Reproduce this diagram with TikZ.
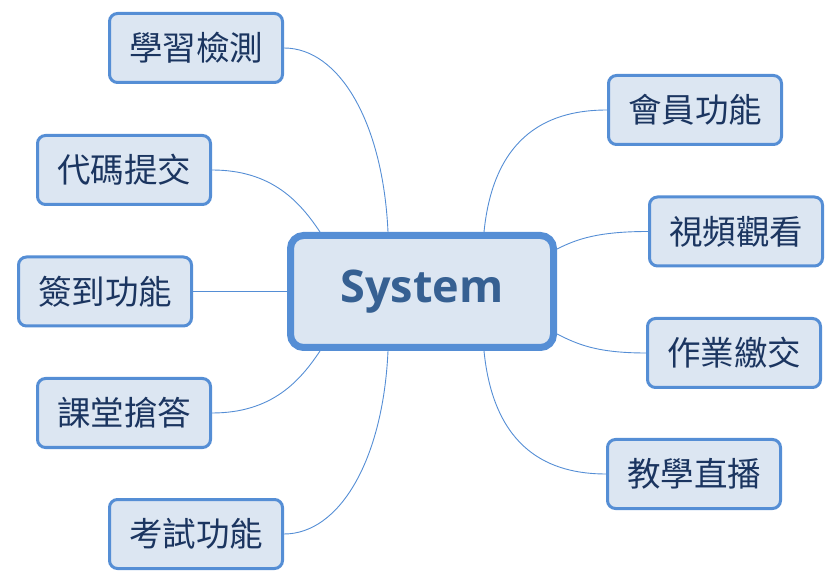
\documentclass[tikz,border=0pt]{standalone}
\usepackage{fontspec}
\newfontfamily\cjk{Noto Sans CJK TC}
\newfontfamily\sysfont{Open Sans}
\usetikzlibrary{calc,backgrounds}
\definecolor{bordc}{HTML}{558ED5}
\definecolor{fillc}{HTML}{DCE6F2}
\definecolor{txtc}{HTML}{1B3560}
\definecolor{systxt}{HTML}{366092}
\tikzset{
  child/.style={draw=bordc, fill=fillc, line width=3pt, rounded corners=8pt,
    minimum width=173pt, minimum height=69pt, text=txtc, inner sep=0pt,
    font=\cjk\fontsize{33.5}{36}\selectfont},
  central/.style={draw=bordc, fill=fillc, line width=7pt, rounded corners=13pt,
    minimum width=263pt, minimum height=112pt, text=systxt, inner sep=0pt,
    font=\sysfont\bfseries\fontsize{45}{50}\selectfont},
  link/.style={draw=bordc, line width=0.9pt}
}
\begin{document}
\begin{tikzpicture}[x=1pt,y=-1pt]
\useasboundingbox (0,0) rectangle (836,585);
\node[central] (sys) at (422,291.5) {\raisebox{-3pt}{System}};
\node[child] (a1) at (196,48) {學習檢測};
\node[child] (a2) at (124,170) {代碼提交};
\node[child] (a3) at (105,291.5) {簽到功能};
\node[child] (a4) at (124,413) {課堂搶答};
\node[child] (a5) at (196,534) {考試功能};
\node[child] (b1) at (695,110) {會員功能};
\node[child] (b2) at (736,231.5) {視頻觀看};
\node[child] (b3) at (734,353) {作業繳交};
\node[child] (b4) at (694,474) {教學直播};
\coordinate (t1) at ($(sys.north)+(-34,0)$);
\coordinate (t2) at ($(sys.north west)+(33,0)$);
\coordinate (t3) at (sys.west);
\coordinate (t4) at ($(sys.south west)+(33,0)$);
\coordinate (t5) at ($(sys.south)+(-34,0)$);
\coordinate (u1) at ($(sys.north)+(62,0)$);
\coordinate (u2) at ($(sys.north east)+(0,17)$);
\coordinate (u3) at ($(sys.south east)+(0,-17)$);
\coordinate (u4) at ($(sys.south)+(62,0)$);
\begin{scope}[on background layer]
\draw[link] (a1.east) .. controls +(55,0) and +(-5,-110) .. (t1);
\draw[link] (a2.east) .. controls +(60,0) and +(-20,-30) .. (t2);
\draw[link] (a3.east) -- (t3);
\draw[link] (a4.east) .. controls +(60,0) and +(-20,30) .. (t4);
\draw[link] (a5.east) .. controls +(55,0) and +(-5,110) .. (t5);
\draw[link] (b1.west) .. controls +(-55,0) and +(10,-100) .. (u1);
\draw[link] (b2.west) .. controls +(-50,0) and +(20,-10) .. (u2);
\draw[link] (b3.west) .. controls +(-50,0) and +(20,10) .. (u3);
\draw[link] (b4.west) .. controls +(-55,0) and +(10,100) .. (u4);
\end{scope}
\end{tikzpicture}
\end{document}
